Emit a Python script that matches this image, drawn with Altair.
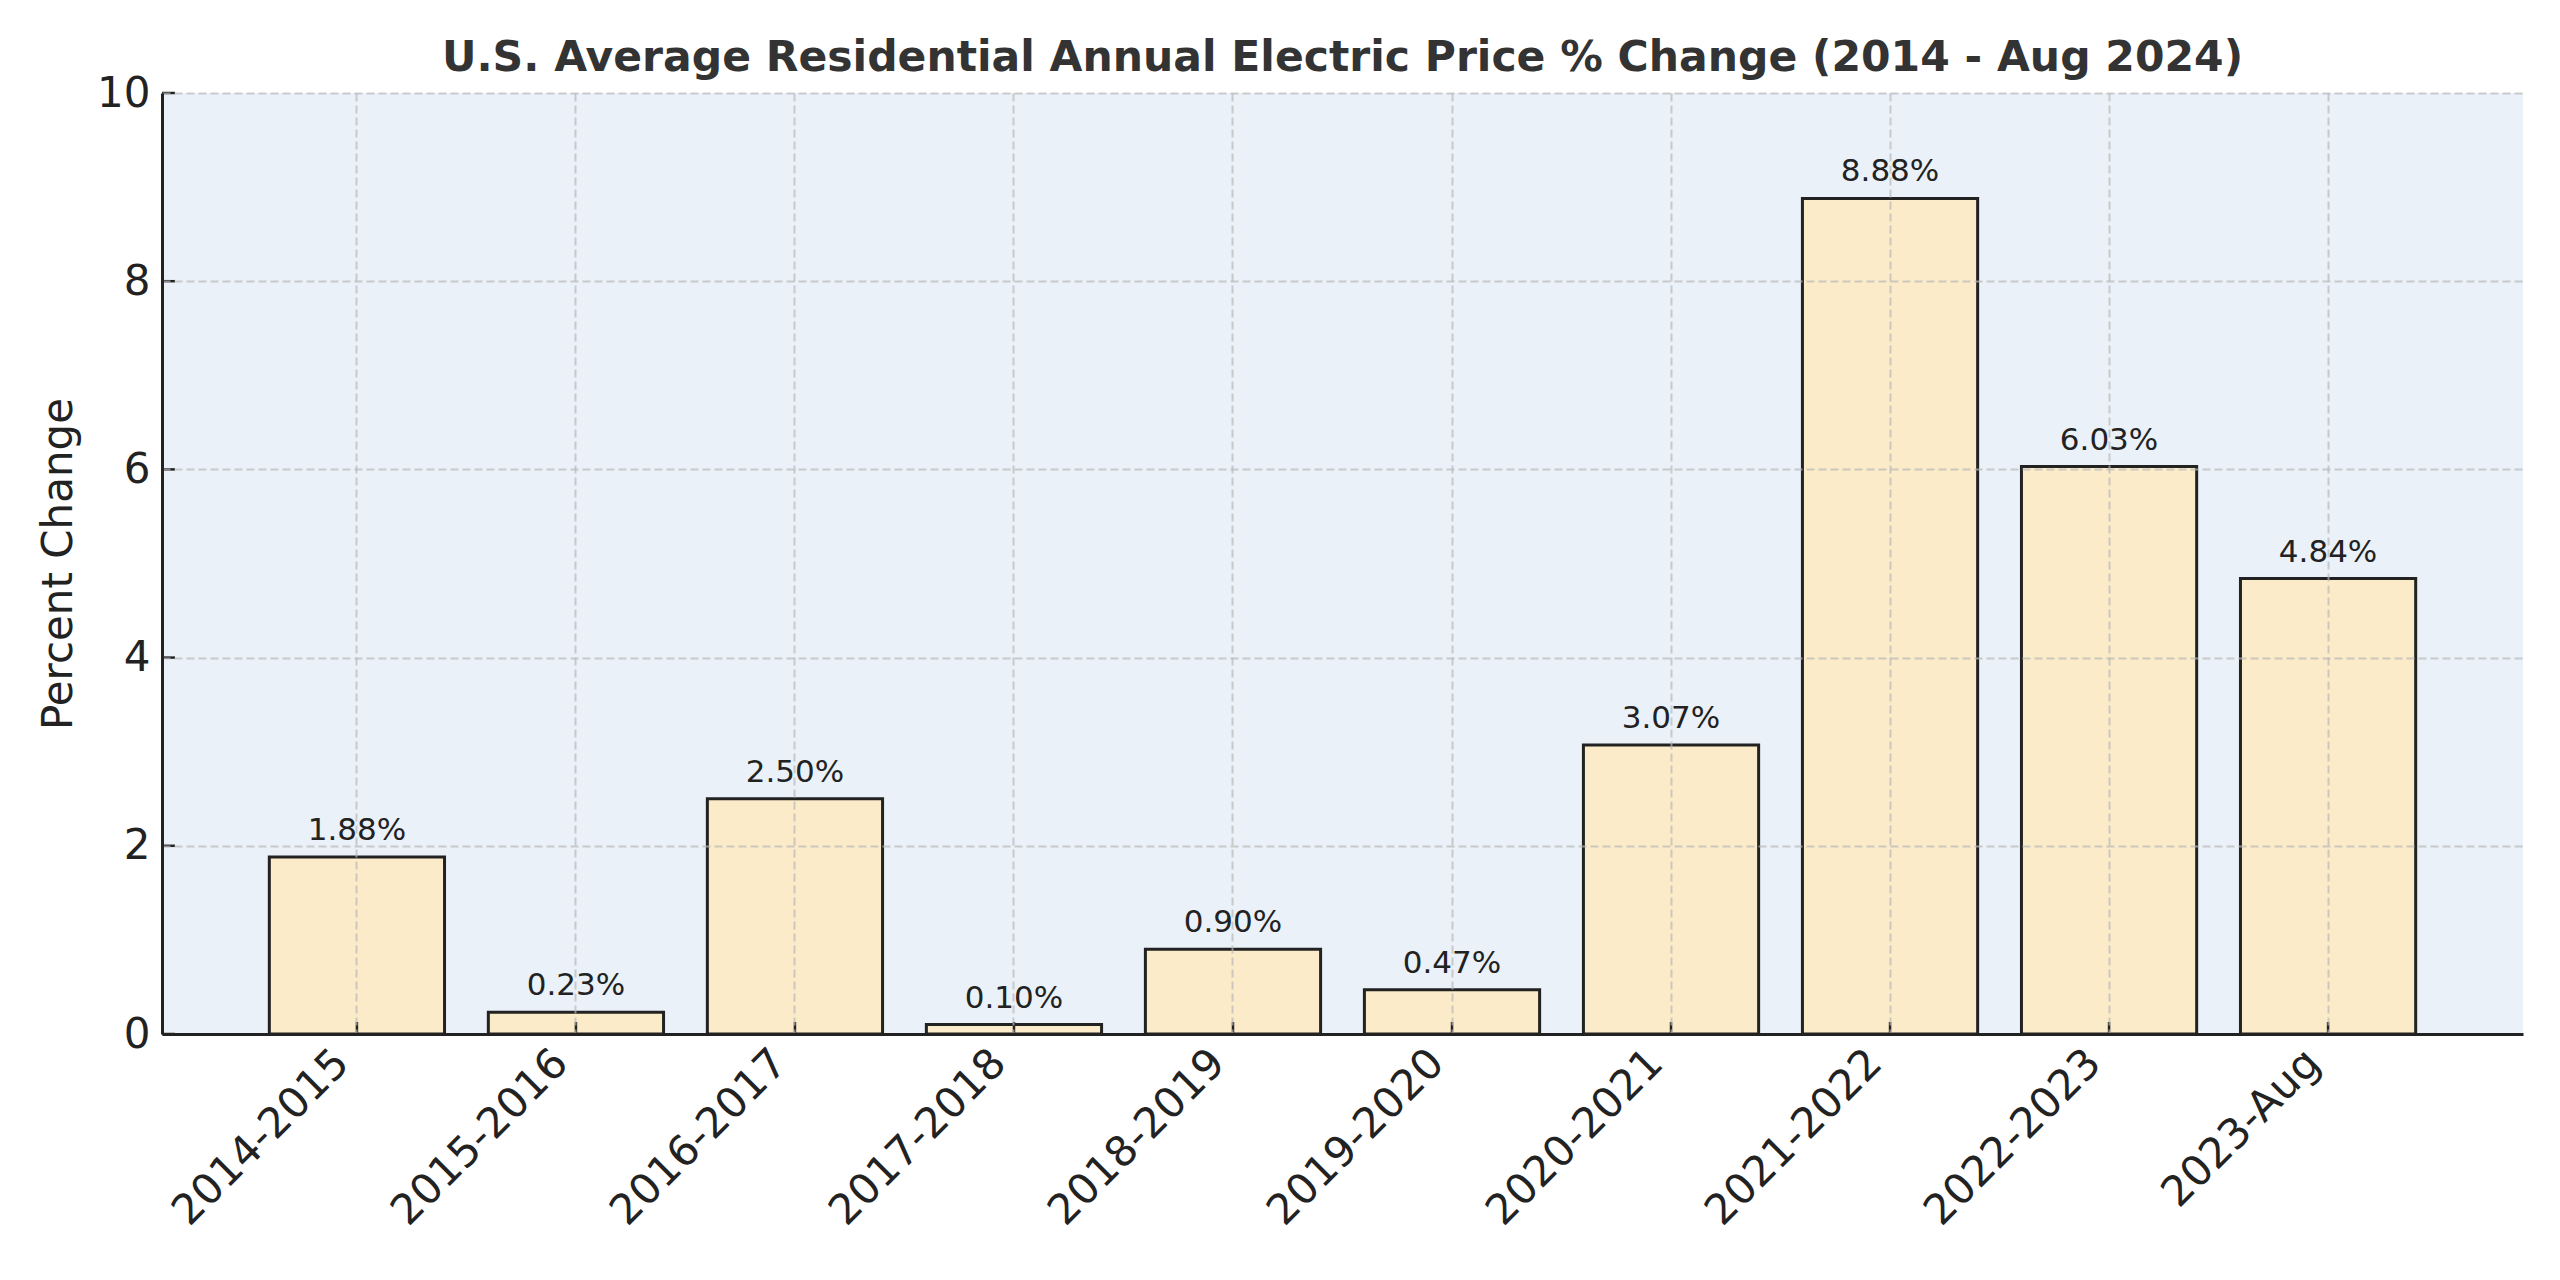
import altair as alt
import pandas as pd

periods = ["2014-2015", "2015-2016", "2016-2017", "2017-2018", "2018-2019",
           "2019-2020", "2020-2021", "2021-2022", "2022-2023", "2023-Aug"]
changes = [1.88, 0.23, 2.50, 0.10, 0.90, 0.47, 3.07, 8.88, 6.03, 4.84]
y_ticks = [0, 2, 4, 6, 8, 10]

W, H = 2361, 941
FONT = "DejaVu Sans"
INK = "#222222"

df = pd.DataFrame({"period": periods, "change": changes})
tdf = pd.DataFrame({"change": y_ticks})

x_scale = alt.Scale(domain=periods, paddingInner=0.2, paddingOuter=0.49)
y_scale = alt.Scale(domain=[0, 10], nice=False, zero=True)

grid_kw = dict(grid=True, gridColor="#b8b8b8", gridOpacity=0.7, gridWidth=2,
               gridDash=[8, 4], tickSize=0, domainColor=INK, domainWidth=3,
               labelFont=FONT, labelColor=INK, titleFont=FONT, titleColor=INK,
               labelLimit=0, zindex=1)

x_axis = alt.Axis(title=None, labelAngle=315, labelAlign="right",
                  labelBaseline="middle", labelFontSize=42, labelPadding=22,
                  labelOffset=-15, **grid_kw)
y_axis = alt.Axis(title="Percent Change", values=y_ticks, format="d",
                  labelFontSize=42, labelPadding=12, titleFontSize=42,
                  titleFontWeight="normal", titleAngle=270, titleX=-91,
                  titleY=H / 2, titleBaseline="alphabetic", titleAlign="center",
                  **grid_kw)

base = alt.Chart(df)

bars = base.mark_bar(fill="#FCEBC8", stroke=INK, strokeWidth=3).encode(
    x=alt.X("period:N", scale=x_scale, axis=x_axis, sort=periods),
    y=alt.Y("change:Q", scale=y_scale, axis=y_axis),
)

labels = base.transform_calculate(
    lbl="format(datum.change, '.2f') + '%'"
).mark_text(font=FONT, fontSize=31, color=INK, baseline="alphabetic",
            align="center", dy=-17).encode(
    x=alt.X("period:N", scale=x_scale, sort=periods),
    y=alt.Y("change:Q", scale=y_scale),
    text="lbl:N",
)

x_ticks = base.mark_rule(color=INK, strokeWidth=2.5).encode(
    x=alt.X("period:N", scale=x_scale, sort=periods),
    y=alt.value(H),
    y2=alt.value(H - 12),
)

y_tick_marks = alt.Chart(tdf).mark_rule(color=INK, strokeWidth=2.5).encode(
    y=alt.Y("change:Q", scale=y_scale),
    x=alt.value(0),
    x2=alt.value(13),
)

chart = alt.layer(bars, labels, x_ticks, y_tick_marks).properties(
    width=W,
    height=H,
    title=alt.TitleParams(
        "U.S. Average Residential Annual Electric Price % Change (2014 - Aug 2024)",
        font=FONT, fontSize=42.5, fontWeight="bold", color="#333333",
        anchor="middle", baseline="alphabetic", offset=21, dy=62,
    ),
    autosize=alt.AutoSizeParams(type="none"),
    padding={"left": 154, "top": 85, "right": 29, "bottom": 238},
).configure(
    background="white",
    view=alt.ViewConfig(fill="#EAF1F8", strokeWidth=0),
)

chart.save("out.html", embed_options={"renderer": "svg", "actions": False})
